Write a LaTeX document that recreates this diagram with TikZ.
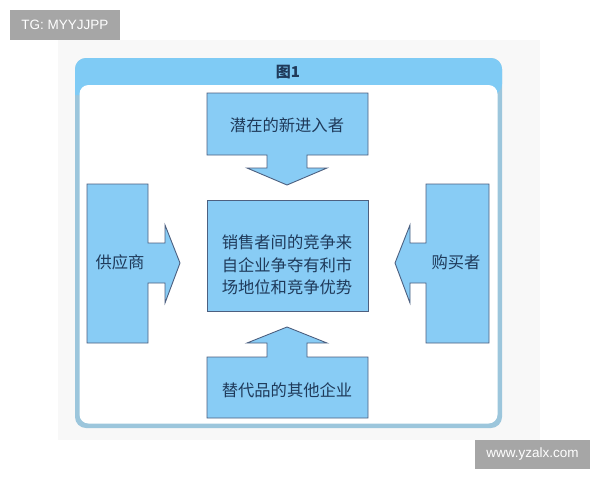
\documentclass[tikz,border=0pt]{standalone}
\usepackage{fontspec}
\newfontfamily\cjk{Noto Sans CJK SC}
\newfontfamily\wm{Liberation Sans}
\definecolor{boxfill}{HTML}{88CCF5}
\definecolor{boxline}{HTML}{4D6080}
\definecolor{txt}{HTML}{1F3A5A}
\definecolor{head}{HTML}{7FCBF5}
\definecolor{frameside}{HTML}{9CC6DC}
\definecolor{wmgray}{HTML}{A6A6A6}
\definecolor{paper}{HTML}{F8F8F8}
\tikzset{
  shapebox/.style={fill=boxfill,draw=boxline,line width=0.9pt,line join=miter},
  lbl/.style={text=txt,font=\cjk\fontsize{16.3}{22.5}\selectfont,align=center,inner sep=0pt},
  wmbox/.style={fill=wmgray,text=white,font=\wm\fontsize{13.5}{15}\selectfont,inner sep=0pt}
}
\begin{document}
\begin{tikzpicture}[x=1pt,y=-1pt]
\useasboundingbox (0,0) rectangle (600,480);
\fill[white] (0,0) rectangle (600,480);
\fill[paper] (58,40) rectangle (540,440);
% frame
\fill[frameside,rounded corners=11pt] (75,58) rectangle (502,428);
\fill[head,rounded corners=11pt] (75,95) |- (288,58) -| (502,95) [sharp corners] -- cycle;
\fill[white,rounded corners=9pt] (79.5,85) rectangle (497.5,423.5);
\node[text=txt,font=\cjk\bfseries\fontsize{15}{16}\selectfont,inner sep=0pt] (title) at (288,72) {图1};
% top
\draw[shapebox] (207,93) -- (368,93) -- (368,155) -- (307,155) -- (307,168) -- (327,168) -- (287,185) -- (247,168) -- (267,168) -- (267,155) -- (207,155) -- cycle;
% bottom
\draw[shapebox] (207,418) -- (368,418) -- (368,357) -- (307,357) -- (307,343) -- (327,343) -- (287,327) -- (247,343) -- (267,343) -- (267,357) -- (207,357) -- cycle;
% left
\draw[shapebox] (87,184) -- (148,184) -- (148,243) -- (165,243) -- (165,225) -- (180,263) -- (165,303) -- (165,283) -- (148,283) -- (148,343) -- (87,343) -- cycle;
% right
\draw[shapebox] (489,184) -- (426,184) -- (426,243) -- (410,243) -- (410,225) -- (395,263) -- (410,303) -- (410,283) -- (426,283) -- (426,343) -- (489,343) -- cycle;
% center
\draw[shapebox] (207,200) rectangle (368,311);
\node[lbl] (entrants) at (287,125) {潜在的新进入者};
\node[lbl] (rivalry) at (287,265) {销售者间的竞争来\\自企业争夺有利市\\场地位和竞争优势};
\node[lbl] (subst) at (287,390) {替代品的其他企业};
\node[lbl] (supplier) at (120,262) {供应商};
\node[lbl] (buyer) at (456,262) {购买者};
% watermarks
\node[wmbox,minimum width=110pt,minimum height=30pt] (wm1) at (65,25) {TG: MYYJJPP};
\node[wmbox,minimum width=115pt,minimum height=29pt] (wm2) at (532.5,454.5) {www.yzalx.com};
\end{tikzpicture}
\end{document}
